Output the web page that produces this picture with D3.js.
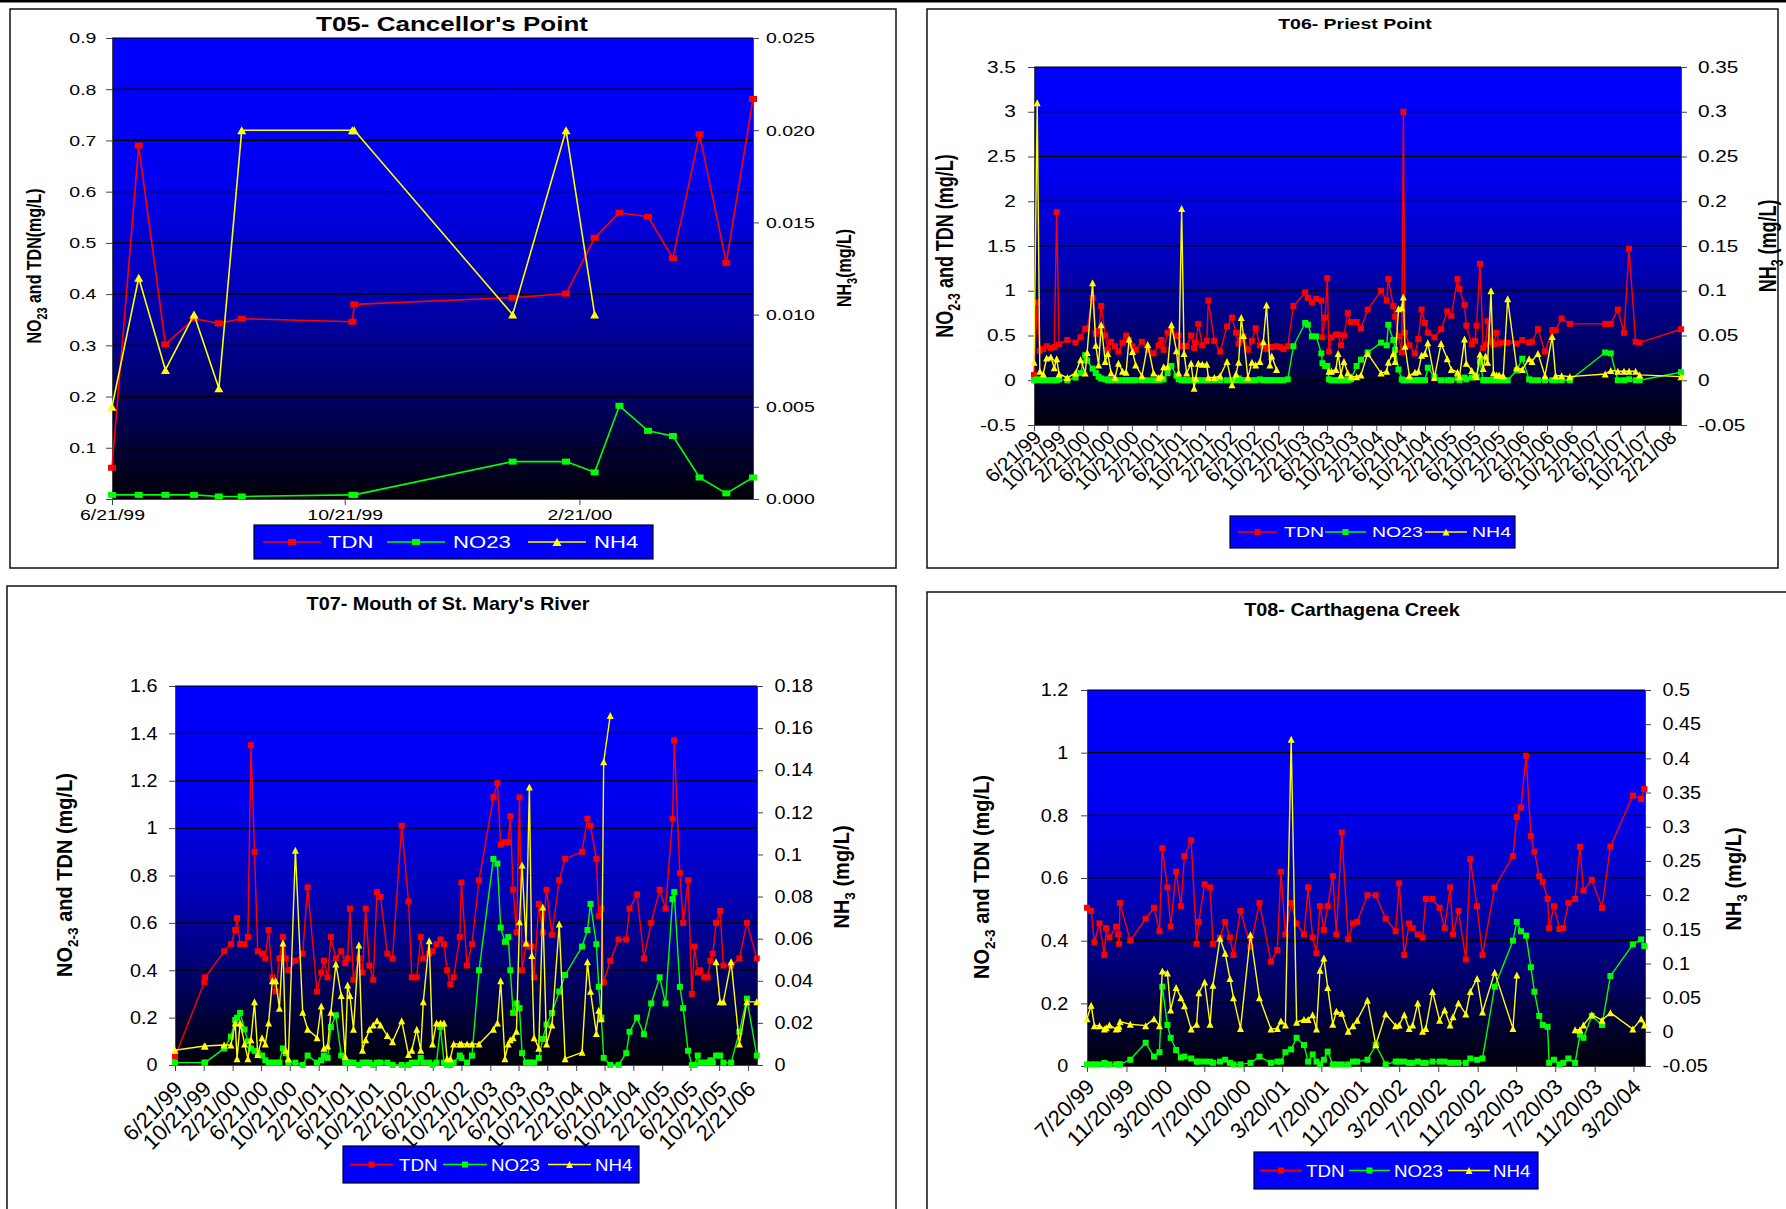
<!DOCTYPE html>
<html>
<head>
<meta charset="utf-8">
<script src="https://cdn.jsdelivr.net/npm/d3@7"></script>
<style>
  html, body { margin: 0; padding: 0; background: #fff; }
  svg { display: block; }
</style>
</head>
<body>
<svg id="chart" width="1786" height="1209"></svg>
<script>
const FONT = '"Liberation Sans", Arial, Helvetica, sans-serif';
const parseDate = d3.timeParse("%m/%d/%y");
const fmtDate = d3.timeFormat("%-m/%-d/%y");

const seriesNames = ["TDN", "NO23", "NH4"];

// ---------------- T05 Cancellor's Point ----------------
const t05Dates = ["6/21/99","7/5/99","7/19/99","8/3/99","8/16/99","8/28/99","10/25/99","10/26/99","1/17/00","2/14/00","2/29/00","3/13/00","3/28/00","4/10/00","4/24/00","5/8/00","5/22/00"];
const t05TDN  = [0.061,0.69,0.302,0.352,0.343,0.352,0.346,0.38,0.393,0.401,0.51,0.559,0.551,0.47,0.712,0.461,0.781];
const t05NO23 = [0.008,0.008,0.008,0.008,0.005,0.005,0.008,0.008,0.073,0.073,0.052,0.182,0.133,0.123,0.042,0.011,0.042];
const t05NH4  = [0.005,0.012,0.007,0.010,0.006,0.020,0.020,0.020,0.010,0.020,0.010,null,null,null,null,null,null];
const t05XDomain = ["6/21/99","5/22/00"];
const t05XTicks = ["6/21/99","10/21/99","2/21/00"];
const t05LeftTicks = [0,0.1,0.2,0.3,0.4,0.5,0.6,0.7,0.8,0.9];
const t05RightTicks = [0,0.005,0.01,0.015,0.02,0.025];

// ---------------- T06 Priest Point ----------------
const t06Dates = [
  "6/21/99","7/7/99","7/20/99","8/6/99","8/23/99","9/13/99","9/30/99","10/12/99","10/24/99","12/4/99",
  "1/14/00","2/8/00","3/2/00","3/12/00","4/8/00","4/24/00","5/8/00","5/21/00","6/10/00","6/23/00",
  "7/9/00","7/29/00","8/15/00","9/4/00","9/22/00","10/7/00","10/24/00","11/9/00","12/10/00","1/8/01",
  "2/6/01","3/4/01","3/17/01","3/28/01","4/17/01","5/6/01","5/31/01","6/11/01","6/26/01","7/8/01",
  "7/21/01","8/12/01","8/27/01","9/4/01","9/17/01","10/7/01","10/29/01","11/6/01","12/6/01","1/4/02",
  "2/7/02","3/4/02","3/24/02","4/6/02","4/19/02","4/30/02","5/22/02","6/11/02","6/30/02","7/21/02",
  "8/7/02","8/23/02","9/9/02","9/18/02","10/12/02","10/29/02","11/15/02","12/7/02","1/4/03","3/4/03",
  "3/17/03","4/6/03","4/28/03","5/23/03","5/29/03","6/11/03","6/22/03","6/30/03","7/13/03","8/4/03",
  "8/15/03","8/29/03","9/13/03","10/2/03","10/18/03","11/15/03","12/7/03","1/9/04","3/16/04","4/13/04",
  "4/21/04","5/16/04","5/25/04","6/11/04","6/27/04","7/5/04","7/13/04","8/4/04","9/1/04","9/18/04",
  "10/4/04","10/21/04","11/4/04","12/7/04","1/9/05","2/9/05","3/1/05","4/1/05","4/11/05","5/6/05",
  "5/15/05","6/11/05","6/27/05","7/5/05","7/22/05","8/7/05","8/19/05","8/29/05","9/15/05","9/27/05",
  "10/13/05","10/25/05","11/15/05","12/7/05","1/21/06","2/18/06","3/24/06","4/7/06","5/7/06","6/11/06",
  "7/17/06","8/3/06","9/2/06","10/13/06","4/7/07","5/5/07","6/9/07","7/10/07","8/4/07","9/6/07",
  "9/26/07","4/19/08"];
const t06TDN = [
  0.06,0.87,0.33,0.35,0.38,0.36,0.37,1.88,0.40,0.45,
  0.42,0.48,0.57,0.58,0.92,0.52,0.55,0.83,0.50,0.34,
  0.43,0.38,0.32,0.42,0.50,0.45,0.38,0.34,0.43,0.34,
  0.30,0.39,0.45,0.34,0.53,0.56,0.49,0.50,0.38,0.38,
  0.38,0.50,0.36,0.42,0.63,0.39,0.44,0.89,0.44,0.32,
  0.60,0.70,0.53,0.41,0.45,0.49,0.34,0.44,0.58,0.39,
  0.39,0.35,0.37,0.37,0.38,0.37,0.35,0.38,0.83,0.98,
  0.92,0.87,0.91,0.89,0.48,0.70,1.14,0.32,0.48,0.51,
  0.51,0.39,0.50,0.75,0.65,0.65,0.58,0.79,1.00,0.89,
  1.13,0.83,0.71,0.49,0.31,3.00,0.53,0.39,0.30,0.46,
  0.79,0.64,0.53,0.48,0.57,0.77,0.72,1.13,1.02,0.84,
  0.61,0.40,0.44,0.61,1.30,0.36,0.40,0.66,0.43,0.40,
  0.53,0.41,0.42,0.42,0.41,0.45,0.42,0.43,0.57,0.32,
  0.56,0.56,0.69,0.63,0.63,0.63,0.79,0.53,1.47,0.43,
  0.42,0.57];
const t06NO23 = [
  0.00,0.01,0.00,0.00,0.00,0.00,0.00,0.00,0.01,0.00,
  0.03,0.08,0.28,0.22,0.13,0.08,0.04,0.02,0.01,0.00,
  0.00,0.00,0.00,0.00,0.00,0.00,0.00,0.00,0.00,0.00,
  0.00,0.00,0.01,0.01,0.08,0.16,0.05,0.01,0.00,0.00,
  0.00,0.00,0.00,0.00,0.00,0.00,0.00,0.00,0.00,0.00,
  0.00,0.00,0.00,0.02,0.00,0.00,0.00,0.00,0.00,0.01,
  0.00,0.00,0.00,0.00,0.00,0.00,0.00,0.01,0.38,0.64,
  0.62,0.49,0.49,0.30,0.19,0.16,0.16,0.01,0.00,0.00,
  0.00,0.00,0.00,0.00,0.01,0.16,0.23,0.31,0.42,0.39,
  0.62,0.45,0.34,0.12,0.01,0.00,0.00,0.00,0.00,0.00,
  0.00,0.00,0.14,0.04,0.00,0.00,0.00,0.02,0.00,0.03,
  0.01,0.03,0.04,0.04,0.21,0.00,0.00,0.00,0.00,0.00,
  0.00,0.00,0.00,0.00,0.11,0.24,0.01,0.00,0.00,0.00,
  0.00,0.00,0.00,0.00,0.31,0.30,0.00,0.00,0.01,0.00,
  0.00,0.09];
const t06NH4 = [
  0.020,0.310,0.010,0.007,0.025,0.026,0.014,0.024,0.007,0.003,
  0.008,0.023,0.008,0.031,0.109,0.039,0.017,0.062,0.021,0.030,
  0.008,0.003,0.019,0.010,0.009,0.046,0.032,0.017,0.005,0.040,
  0.008,0.003,0.005,0.015,0.015,0.062,0.033,0.008,0.192,0.030,
  0.008,0.019,-0.009,0.002,0.019,0.018,0.018,0.003,0.003,0.005,
  0.021,-0.005,0.007,0.020,0.070,0.050,0.003,0.020,0.017,0.021,
  0.043,0.084,0.017,0.027,0.012,null,null,null,null,null,
  null,null,null,null,null,null,null,0.010,0.010,0.012,
  0.030,0.006,0.021,0.008,0.004,0.004,0.006,0.030,0.008,0.010,
  0.020,0.030,0.021,0.080,0.081,0.093,0.038,0.005,0.009,0.010,
  0.028,0.030,0.042,0.003,0.041,0.024,0.012,0.009,0.004,0.046,
  0.019,0.011,0.006,0.004,0.029,0.013,0.027,0.020,0.100,0.008,
  0.006,0.006,0.005,0.091,0.014,0.012,0.024,0.021,0.030,0.005,
  0.049,0.005,0.005,0.004,0.007,0.011,0.010,0.010,0.010,0.010,
  0.006,0.004];
const t06XDomain = ["6/21/99","4/19/08"];
const t06XTicks = ["6/21/99","10/21/99","2/21/00","6/21/00","10/21/00","2/21/01","6/21/01","10/21/01","2/21/02",
  "6/21/02","10/21/02","2/21/03","6/21/03","10/21/03","2/21/04","6/21/04","10/21/04","2/21/05","6/21/05",
  "10/21/05","2/21/06","6/21/06","10/21/06","2/21/07","6/21/07","10/21/07","2/21/08"];
const t06LeftTicks = [-0.5,0,0.5,1,1.5,2,2.5,3,3.5];
const t06RightTicks = [-0.05,0,0.05,0.1,0.15,0.2,0.25,0.3,0.35];

// ---------------- T07 Mouth of St. Mary's River ----------------
const t07Dates = [
  "6/21/99","10/24/99","10/27/99","1/16/00","2/14/00","3/3/00","3/11/00","3/24/00","4/12/00","4/26/00",
  "5/9/00","5/24/00","6/7/00","6/25/00","7/9/00","7/23/00","8/8/00","8/22/00","9/7/00","9/22/00",
  "10/4/00","10/15/00","11/14/00","12/15/00","1/5/01","2/14/01","3/4/01","3/15/01","3/31/01","4/14/01",
  "5/5/01","5/28/01","6/14/01","6/24/01","7/4/01","7/19/01","8/11/01","8/26/01","9/9/01","9/25/01",
  "10/11/01","10/27/01","11/11/01","12/10/01","1/1/02","2/9/02","3/10/02","3/24/02","4/14/02","5/1/02",
  "5/12/02","6/6/02","6/20/02","7/7/02","7/24/02","8/8/02","8/21/02","9/4/02","9/18/02","10/14/02",
  "10/21/02","11/14/02","12/5/02","1/4/03","3/6/03","3/23/03","4/6/03","4/24/03","5/8/03","5/17/03",
  "5/29/03","6/12/03","6/25/03","7/6/03","7/23/03","8/6/03","8/16/03","8/26/03","9/15/03","10/2/03",
  "10/18/03","11/10/03","12/11/03","1/5/04","3/17/04","4/9/04","4/22/04","5/17/04","5/27/04","6/7/04",
  "6/17/04","7/15/04","8/19/04","9/21/04","10/5/04","11/6/04","12/5/04","1/5/05","2/10/05","3/7/05",
  "4/6/05","4/13/05","5/7/05","5/21/05","6/11/05","6/27/05","7/8/05","7/22/05","8/2/05","8/19/05",
  "9/2/05","9/14/05","9/24/05","10/8/05","10/25/05","11/8/05","12/11/05","1/15/06","2/16/06","3/30/06"];
const t07TDN = [
  0.035,0.35,0.37,0.48,0.51,0.57,0.62,0.51,0.51,0.54,
  1.35,0.90,0.48,0.47,0.45,0.57,0.37,0.31,0.45,0.54,
  0.45,0.40,0.44,0.47,0.75,0.31,0.39,0.44,0.37,0.54,
  0.45,0.48,0.43,0.45,0.66,0.36,0.45,0.39,0.66,0.42,
  0.36,0.73,0.71,0.47,0.45,1.01,0.69,0.37,0.37,0.54,
  0.45,0.47,0.48,0.51,0.53,0.51,0.40,0.34,0.37,0.54,
  0.77,0.42,0.51,0.78,1.13,1.19,0.93,0.94,0.94,1.05,
  0.74,0.56,1.13,0.40,0.51,0.50,0.50,0.37,0.68,0.56,
  0.74,0.55,0.78,0.87,0.90,1.04,1.01,0.87,0.63,0.66,
  0.35,0.44,0.53,0.53,0.66,0.72,0.45,0.60,0.74,0.66,
  1.04,1.37,0.81,0.60,0.78,0.30,0.50,0.39,0.40,0.37,
  0.37,0.44,0.47,0.60,0.65,0.42,0.42,0.45,0.60,0.45];
const t07NO23 = [
  0.01,0.01,0.01,0.07,0.12,0.19,0.20,0.22,0.15,0.10,
  0.07,0.06,0.05,0.04,0.02,0.01,0.01,0.01,0.01,0.07,
  0.05,0.01,0.01,0.00,0.04,0.01,0.02,0.04,0.03,0.16,
  0.21,0.04,0.01,0.01,0.01,0.01,0.00,0.01,0.01,0.01,
  0.00,0.01,0.01,0.01,0.00,0.00,0.00,0.01,0.01,0.03,
  0.01,0.01,0.00,0.01,0.16,0.01,0.00,0.00,0.01,0.04,
  0.03,0.01,0.04,0.40,0.87,0.85,0.58,0.52,0.54,0.40,
  0.22,0.26,0.24,0.05,0.01,0.01,0.01,0.01,0.03,0.11,
  0.17,0.22,0.31,0.38,0.50,0.57,0.68,0.51,0.33,0.20,
  0.03,0.00,0.00,0.05,0.14,0.20,0.13,0.26,0.37,0.26,
  0.70,0.73,0.33,0.24,0.06,0.00,0.00,0.04,0.01,0.01,
  0.01,0.02,0.01,0.04,0.04,0.01,0.01,0.14,0.28,0.04];
const t07NH4 = [
  0.007,0.009,0.009,0.0095,0.0095,0.020,0.003,0.020,0.010,0.003,
  0.012,0.030,0.005,0.013,0.010,0.020,0.040,0.040,0.027,0.058,
  0.007,0.003,0.102,0.025,0.017,0.013,0.028,0.008,0.009,0.025,
  0.048,0.033,0.004,0.038,0.033,0.017,0.057,0.007,0.012,0.017,
  0.019,0.021,0.019,0.014,0.011,0.021,0.005,0.007,0.017,0.007,
  0.030,0.059,0.010,0.020,0.020,0.020,0.003,0.003,0.010,0.010,
  0.010,0.010,0.010,0.010,0.017,0.020,0.040,0.003,0.010,0.012,
  0.013,0.016,0.068,0.095,0.058,0.132,0.052,0.013,0.008,0.075,
  0.010,0.019,0.067,0.003,0.006,0.049,0.035,0.015,0.026,0.022,
  0.144,0.166,null,null,null,null,null,null,null,null,
  null,null,null,null,null,null,null,null,null,null,
  null,null,null,0.049,0.030,0.030,0.049,0.010,0.030,0.030];
const t07XDomain = ["6/21/99","3/31/06"];
const t07XTicks = ["6/21/99","10/21/99","2/21/00","6/21/00","10/21/00","2/21/01","6/21/01","10/21/01","2/21/02",
  "6/21/02","10/21/02","2/21/03","6/21/03","10/21/03","2/21/04","6/21/04","10/21/04","2/21/05","6/21/05",
  "10/21/05","2/21/06"];
const t07LeftTicks = [0,0.2,0.4,0.6,0.8,1,1.2,1.4,1.6];
const t07RightTicks = [0,0.02,0.04,0.06,0.08,0.1,0.12,0.14,0.16,0.18];

// ---------------- T08 Carthagena Creek ----------------
const t08Dates = [
  "7/20/99","8/2/99","8/12/99","8/28/99","9/12/99","9/18/99","9/28/99","10/19/99","10/25/99","10/28/99",
  "10/31/99","12/2/99","1/19/00","2/14/00","3/2/00","3/11/00","3/27/00","4/6/00","4/23/00","5/8/00",
  "5/19/00","6/9/00","6/26/00","7/3/00","7/21/00","8/7/00","8/16/00","9/7/00","9/23/00","10/8/00",
  "10/19/00","11/10/00","12/11/00","1/8/01","2/13/01","3/5/01","3/16/01","3/30/01","4/17/01","5/4/01",
  "5/27/01","6/9/01","6/23/01","7/5/01","7/16/01","7/28/01","8/9/01","8/25/01","9/5/01","9/22/01",
  "10/12/01","10/27/01","11/9/01","12/11/01","1/6/02","2/6/02","3/9/02","3/20/02","4/5/02","4/20/02",
  "5/1/02","5/17/02","6/1/02","6/11/02","7/2/02","7/24/02","8/9/02","8/26/02","9/4/02","9/21/02",
  "10/14/02","10/28/02","11/18/02","12/5/02","1/12/03","3/10/03","3/22/03","4/4/03","4/20/03","5/5/03",
  "5/16/03","5/31/03","6/11/03","6/26/03","7/1/03","7/16/03","8/2/03","8/14/03","8/30/03","9/20/03",
  "10/5/03","10/16/03","11/11/03","12/13/03","1/8/04","3/18/04","4/13/04","4/23/04"];
const t08TDN = [
  0.505,0.495,0.395,0.455,0.354,0.44,0.41,0.445,0.42,0.39,
  0.52,0.40,0.47,0.505,0.43,0.695,0.57,0.445,0.62,0.51,
  0.67,0.72,0.39,0.46,0.58,0.57,0.39,0.41,0.46,0.41,
  0.354,0.495,0.38,0.52,0.333,0.37,0.62,0.42,0.52,0.455,
  0.42,0.57,0.41,0.36,0.51,0.434,0.51,0.606,0.42,0.745,
  0.405,0.455,0.46,0.545,0.545,0.47,0.43,0.583,0.354,0.455,
  0.44,0.42,0.41,0.533,0.533,0.505,0.44,0.57,0.42,0.495,
  0.34,0.66,0.51,0.354,0.57,0.67,0.795,0.825,0.99,0.734,
  0.684,0.606,0.588,0.533,0.44,0.51,0.437,0.44,0.52,0.533,
  0.70,0.56,0.594,0.505,0.70,0.863,0.852,0.884];
const t08NO23 = [
  0.005,0.005,0.005,0.005,0.01,0.005,0.005,0.005,0.005,0.005,
  0.005,0.02,0.074,0.03,0.044,0.253,0.131,0.09,0.051,0.027,
  0.03,0.024,0.014,0.014,0.014,0.014,0.01,0.014,0.02,0.01,
  0.005,0.005,0.01,0.03,0.01,0.014,0.014,0.044,0.053,0.09,
  0.067,0.014,0.037,0.014,0.005,0.02,0.046,0.005,0.005,0.005,
  0.005,0.014,0.014,0.02,0.067,0.005,0.014,0.014,0.014,0.01,
  0.01,0.014,0.01,0.01,0.014,0.014,0.014,0.01,0.01,0.01,
  0.01,0.024,0.02,0.024,0.253,0.40,0.46,0.43,0.416,0.315,
  0.237,0.16,0.131,0.125,0.01,0.02,0.005,0.01,0.024,0.01,
  0.10,0.09,0.16,0.131,0.287,0.388,0.404,0.383];
const t08NH4 = [
  0.019,0.039,0.009,0.009,0.004,0.006,0.010,0.004,0.005,0.008,
  0.015,0.011,0.009,0.019,0.009,0.089,0.086,0.032,0.065,0.050,
  0.038,0.004,0.011,0.057,0.073,0.011,0.068,0.137,0.115,0.078,
  0.050,0.005,0.142,0.050,0.004,0.005,0.016,0.010,0.428,0.014,
  0.018,0.018,0.025,0.004,0.090,0.108,0.065,0.011,0.030,0.027,
  0.001,0.009,0.017,0.046,-0.019,0.026,0.009,0.010,0.025,0.005,
  0.010,0.042,0.001,0.005,0.059,0.017,0.032,0.010,0.022,0.042,
  0.026,0.059,0.078,0.029,0.087,0.005,0.083,null,null,null,
  null,null,null,null,null,null,null,null,null,0.003,
  0.003,0.010,0.025,0.017,0.028,0.004,0.019,0.010];
const t08XDomain = ["7/20/99","4/25/04"];
const t08XTicks = ["7/20/99","11/20/99","3/20/00","7/20/00","11/20/00","3/20/01","7/20/01","11/20/01",
  "3/20/02","7/20/02","11/20/02","3/20/03","7/20/03","11/20/03","3/20/04"];
const t08LeftTicks = [0,0.2,0.4,0.6,0.8,1,1.2];
const t08RightTicks = [-0.05,0,0.05,0.1,0.15,0.2,0.25,0.3,0.35,0.4,0.45,0.5];

// ---------------- panel setup ----------------
const plain = d => String(d);
const panels = [
  {
    title: "T05- Cancellor's Point",
    dates: t05Dates, values: [t05TDN, t05NO23, t05NH4],
    xDomain: t05XDomain, xTicks: t05XTicks,
    leftTicks: t05LeftTicks, rightTicks: t05RightTicks,
    leftFmt: plain, rightFmt: d3.format(".3f"),
    leftTitle: [["NO"], ["23", true], [" and TDN(mg/L)"]],
    rightTitle: [["NH"], ["3", true], ["(mg/L)"]],
    lay: {
      box: [10, 9, 896, 568], plot: [112, 38, 753, 499], sx: 1.3,
      title: [452, 31, 20], tick: 15, padL: 6, padR: 4,
      xRot: false, xFont: 15, xSx: 1.3, axisTitle: 16,
      leftTitle: [34, 266], rightTitle: [844, 268],
      legend: [254, 525, 653, 559], legendItems: [[263, 321, 328], [387, 445, 453], [528, 586, 594]], legendFont: 17,
      sq: [8, 6], tri: [9, 8], lineW: 1.6
    }
  },
  {
    title: "T06- Priest Point",
    dates: t06Dates, values: [t06TDN, t06NO23, t06NH4],
    xDomain: t06XDomain, xTicks: t06XTicks,
    leftTicks: t06LeftTicks, rightTicks: t06RightTicks,
    leftFmt: plain, rightFmt: plain,
    leftTitle: [["NO"], ["2-3", true], [" and TDN (mg/L)"]],
    rightTitle: [["NH"], ["3", true], [" (mg/L)"]],
    lay: {
      box: [927, 9, 1778, 568], plot: [1034, 67, 1681, 425], sx: 1.3,
      title: [1355, 29, 15], tick: 16, padL: 8, padR: 7,
      xRot: true, xFont: 19, xSx: 1.1, xOff: [3, 9], axisTitle: 18,
      leftTitle: [945, 246], rightTitle: [1768, 246],
      legend: [1230, 516, 1515, 548], legendItems: [[1238, 1277, 1284], [1325, 1366, 1372], [1425, 1467, 1472]], legendFont: 15,
      sq: [6, 6], tri: [7, 7], lineW: 1.4
    }
  },
  {
    title: "T07- Mouth of St. Mary's River",
    dates: t07Dates, values: [t07TDN, t07NO23, t07NH4],
    xDomain: t07XDomain, xTicks: t07XTicks,
    leftTicks: t07LeftTicks, rightTicks: t07RightTicks,
    leftFmt: plain, rightFmt: plain,
    leftTitle: [["NO"], ["2-3", true], [" and TDN (mg/L)"]],
    rightTitle: [["NH"], ["3", true], [" (mg/L)"]],
    lay: {
      box: [7, 586, 896, 1230], plot: [175, 686, 757, 1065], sx: 1.1,
      title: [448, 610, 18], tick: 18, padL: 10, padR: 10,
      xRot: true, xFont: 22, xSx: 1.0, xOff: [3, 20], axisTitle: 20,
      leftTitle: [64, 875], rightTitle: [841, 877],
      legend: [343, 1146, 639, 1183], legendItems: [[350, 393, 399], [443, 487, 491], [548, 591, 595]], legendFont: 17,
      sq: [6, 6], tri: [7, 7], lineW: 1.4
    }
  },
  {
    title: "T08- Carthagena Creek",
    dates: t08Dates, values: [t08TDN, t08NO23, t08NH4],
    xDomain: t08XDomain, xTicks: t08XTicks,
    leftTicks: t08LeftTicks, rightTicks: t08RightTicks,
    leftFmt: plain, rightFmt: plain,
    leftTitle: [["NO"], ["2-3", true], [" and TDN (mg/L)"]],
    rightTitle: [["NH"], ["3", true], [" (mg/L)"]],
    lay: {
      box: [927, 592, 1800, 1230], plot: [1087, 690, 1645, 1066], sx: 1.1,
      title: [1352, 616, 18], tick: 18, padL: 11, padR: 10,
      xRot: true, xFont: 22, xSx: 1.0, xOff: [3, 17], axisTitle: 20,
      leftTitle: [981, 877], rightTitle: [1733, 879],
      legend: [1254, 1152, 1538, 1189], legendItems: [[1260, 1302, 1306], [1349, 1390, 1394], [1448, 1490, 1493]], legendFont: 17,
      sq: [6, 6], tri: [7, 7], lineW: 1.4
    }
  }
];

const seriesStyle = [
  { color: "#ff0000", shape: "square", axis: "left" },
  { color: "#00ff00", shape: "square", axis: "left" },
  { color: "#ffff00", shape: "triangle", axis: "right" }
];

const svg = d3.select("#chart").style("font-family", FONT);

// plot-area fill: bright blue fading to black
const defs = svg.append("defs");
const grad = defs.append("linearGradient").attr("id", "plotFill")
  .attr("x1", 0).attr("y1", 0).attr("x2", 0).attr("y2", 1);
[[0, "#0000ff"], [0.3, "#0000f0"], [0.55, "#0000b8"], [0.75, "#000070"], [0.9, "#000030"], [1, "#000008"]]
  .forEach(([o, c]) => grad.append("stop").attr("offset", o).attr("stop-color", c));

// thin rule across the top of the sheet
svg.append("rect").attr("x", 0).attr("y", 0).attr("width", 1786).attr("height", 2.5).attr("fill", "#000");

function triPath(cx, cy, w, h) {
  return `M${cx},${cy - h / 2}L${cx + w / 2},${cy + h / 2}L${cx - w / 2},${cy + h / 2}Z`;
}

function drawMarker(g, shape, cx, cy, lay, color) {
  if (shape === "square") {
    g.append("rect").attr("x", cx - lay.sq[0] / 2).attr("y", cy - lay.sq[1] / 2)
      .attr("width", lay.sq[0]).attr("height", lay.sq[1]).attr("fill", color);
  } else {
    g.append("path").attr("d", triPath(cx, cy, lay.tri[0], lay.tri[1])).attr("fill", color);
  }
}

function axisTitle(g, x, y, parts, size, sx) {
  const t = g.append("text")
    .attr("transform", `translate(${x},${y}) scale(${sx},1) rotate(-90)`)
    .attr("text-anchor", "middle").attr("dy", "0.35em")
    .style("font-size", size + "px").style("font-weight", "bold").attr("fill", "#000");
  let lowered = false;
  parts.forEach(([s, sub]) => {
    const ts = t.append("tspan").text(s);
    if (sub) { ts.style("font-size", (size * 0.68) + "px").attr("dy", size * 0.28); lowered = true; }
    else if (lowered) { ts.attr("dy", -size * 0.28); lowered = false; }
  });
}

function styleAxis(sel, lay) {
  sel.attr("font-family", FONT).attr("font-size", lay.tick);
  sel.select(".domain").attr("stroke", "#444").attr("stroke-width", 1);
  sel.selectAll(".tick line").attr("stroke", "#444").attr("stroke-width", 1);
  sel.selectAll(".tick text").attr("fill", "#000");
}

function drawPanel(p) {
  const lay = p.lay;
  const [L, T, R, B] = lay.plot;
  const g = svg.append("g");

  // frame
  g.append("rect").attr("x", lay.box[0]).attr("y", lay.box[1])
    .attr("width", lay.box[2] - lay.box[0]).attr("height", lay.box[3] - lay.box[1])
    .attr("fill", "#fff").attr("stroke", "#111").attr("stroke-width", 1.5);

  // title
  g.append("text").attr("transform", `translate(${lay.title[0]},${lay.title[1]}) scale(${lay.sx},1)`)
    .attr("text-anchor", "middle").style("font-size", lay.title[2] + "px").style("font-weight", "bold")
    .attr("fill", "#000").text(p.title);

  const x = d3.scaleTime().domain(p.xDomain.map(parseDate)).range([L, R]);
  const yL = d3.scaleLinear().domain(d3.extent(p.leftTicks)).range([B, T]);
  const yR = d3.scaleLinear().domain(d3.extent(p.rightTicks)).range([B, T]);

  // plot area
  g.append("rect").attr("x", L).attr("y", T).attr("width", R - L).attr("height", B - T)
    .attr("fill", "url(#plotFill)");

  // gridlines
  g.append("g").selectAll("line").data(p.leftTicks.slice(1)).join("line")
    .attr("x1", L).attr("x2", R).attr("y1", d => yL(d)).attr("y2", d => yL(d))
    .attr("stroke", "#000").attr("stroke-width", 1.2);

  // axes
  const gl = g.append("g").attr("transform", `translate(${L},0)`)
    .call(d3.axisLeft(yL).tickValues(p.leftTicks).tickFormat(p.leftFmt).tickSize(6).tickSizeOuter(0).tickPadding(lay.padL));
  styleAxis(gl, lay);
  gl.selectAll(".tick text").attr("transform", `scale(${lay.sx},1)`);

  const gr = g.append("g").attr("transform", `translate(${R},0)`)
    .call(d3.axisRight(yR).tickValues(p.rightTicks).tickFormat(p.rightFmt).tickSize(6).tickSizeOuter(0).tickPadding(lay.padR));
  styleAxis(gr, lay);
  gr.selectAll(".tick text").attr("transform", `scale(${lay.sx},1)`);

  const gb = g.append("g").attr("transform", `translate(0,${B})`)
    .call(d3.axisBottom(x).tickValues(p.xTicks.map(parseDate)).tickFormat(fmtDate).tickSize(6).tickSizeOuter(0).tickPadding(4));
  styleAxis(gb, lay);
  gb.attr("font-size", lay.xFont);
  if (lay.xRot) {
    gb.selectAll(".tick text")
      .attr("x", 0).attr("y", 0).attr("dy", "0.35em").attr("text-anchor", "end")
      .attr("transform", `translate(${lay.xOff[0]},${lay.xOff[1]}) scale(${lay.xSx},1) rotate(-45)`);
  } else {
    gb.selectAll(".tick text").attr("transform", `scale(${lay.xSx},1)`);
  }

  // axis titles
  axisTitle(g, lay.leftTitle[0], lay.leftTitle[1], p.leftTitle, lay.axisTitle, lay.sx);
  axisTitle(g, lay.rightTitle[0], lay.rightTitle[1], p.rightTitle, lay.axisTitle, lay.sx);

  // series: lines then markers, NH4 drawn last
  const dates = p.dates.map(parseDate);
  seriesStyle.forEach((s, si) => {
    const y = s.axis === "left" ? yL : yR;
    const pts = dates.map((d, i) => ({ d, v: p.values[si][i] }));
    const line = d3.line().defined(q => q.v !== null).x(q => x(q.d)).y(q => y(q.v));
    g.append("path").datum(pts).attr("d", line).attr("fill", "none")
      .attr("stroke", s.color).attr("stroke-width", lay.lineW).attr("stroke-linejoin", "round");
    const mg = g.append("g");
    pts.filter(q => q.v !== null).forEach(q => drawMarker(mg, s.shape, x(q.d), y(q.v), lay, s.color));
  });

  // legend
  const [lx0, ly0, lx1, ly1] = lay.legend;
  const lg = g.append("g");
  lg.append("rect").attr("x", lx0).attr("y", ly0).attr("width", lx1 - lx0).attr("height", ly1 - ly0)
    .attr("fill", "#0000ff").attr("stroke", "#000022").attr("stroke-width", 1.2);
  const cy = (ly0 + ly1) / 2;
  seriesStyle.forEach((s, si) => {
    const [a, b, tx] = lay.legendItems[si];
    lg.append("line").attr("x1", a).attr("x2", b).attr("y1", cy).attr("y2", cy)
      .attr("stroke", s.color).attr("stroke-width", lay.lineW);
    drawMarker(lg, s.shape, (a + b) / 2, cy, lay, s.color);
    lg.append("text").attr("transform", `translate(${tx},${cy}) scale(${lay.sx},1)`)
      .attr("dy", "0.36em").style("font-size", lay.legendFont + "px").attr("fill", "#fff")
      .text(seriesNames[si]);
  });
}

panels.forEach(drawPanel);
</script>
</body>
</html>
